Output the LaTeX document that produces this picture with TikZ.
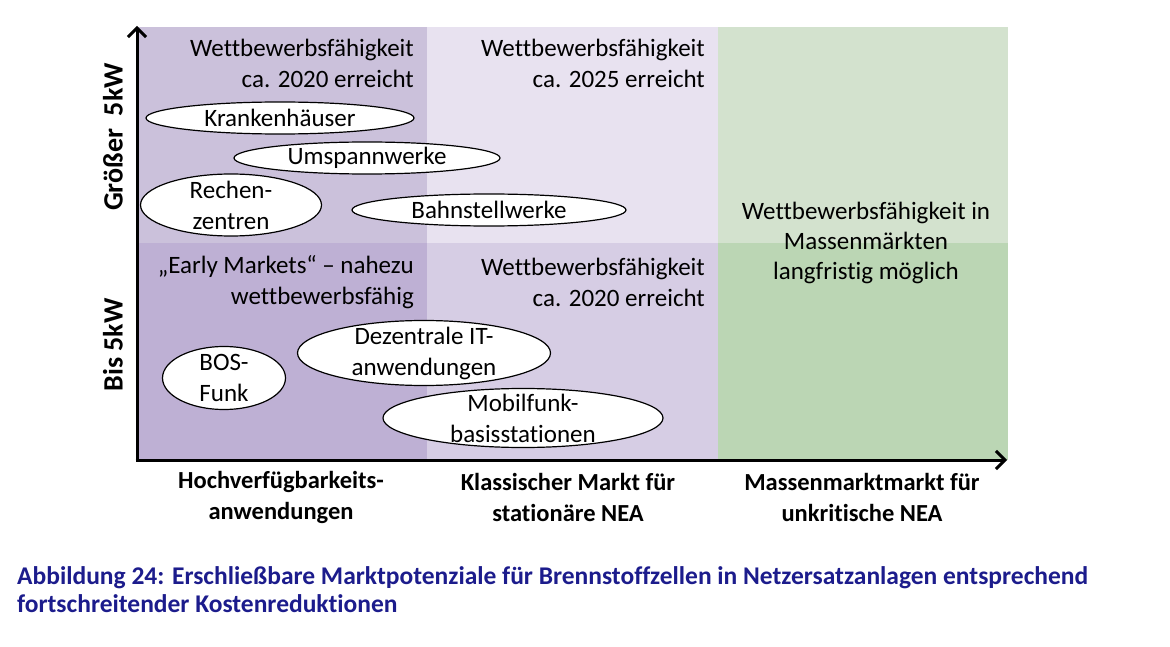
\documentclass[tikz,border=0pt]{standalone}
\usepackage{fontspec}
\setmainfont{Carlito}[Ligatures={NoCommon}]
\usetikzlibrary{shapes.geometric,arrows.meta}
\definecolor{tlc}{RGB}{203,193,219}
\definecolor{blc}{RGB}{190,176,212}
\definecolor{tmc}{RGB}{232,226,240}
\definecolor{bmc}{RGB}{214,205,228}
\definecolor{trc}{RGB}{211,226,206}
\definecolor{brc}{RGB}{187,214,180}
\definecolor{capc}{RGB}{28,28,140}
\tikzset{
  oval/.style={ellipse, draw=black, line width=1.2bp, fill=white, inner sep=0pt},
  ovaltext/.style={align=center, inner sep=0pt, font=\fontsize{25bp}{31bp}\selectfont},
  note/.style={align=right, inner sep=0pt, font=\fontsize{25bp}{31bp}\selectfont},
  notec/.style={align=center, inner sep=0pt, font=\fontsize{25bp}{30bp}\selectfont},
  axlabel/.style={align=center, inner sep=0pt, font=\bfseries\fontsize{24.5bp}{31bp}\selectfont},
  ylabel/.style={inner sep=0pt, rotate=90, font=\bfseries\fontsize{28bp}{31bp}\selectfont},
  axis/.style={line width=3bp, -{Straight Barb[length=9bp,width=18bp,line width=3bp]}},
}
\begin{document}
\begin{tikzpicture}[x=1bp,y=-1bp]
\useasboundingbox (0,0) rectangle (1170,647);
% regions
\fill[tlc] (137,27) rectangle (427,243);
\fill[tmc] (427,27) rectangle (718,243);
\fill[trc] (718,27) rectangle (1008,243);
\fill[blc] (137,243) rectangle (427,460);
\fill[bmc] (427,243) rectangle (718,460);
\fill[brc] (718,243) rectangle (1008,460);
% axes
\coordinate (o) at (137,460);
\coordinate (ytip) at (137,26);
\coordinate (xtip) at (1007,460);
\draw[axis] (o) -- (ytip);
\draw[axis] ([xshift=-1.5bp]o) -- (xtip);
% quadrant notes
\node[note, anchor=east] (n1) at (414,63) {Wettbewerbsfähigkeit\\ca. 2020 erreicht};
\node[note, anchor=east] (n2) at (705,63) {Wettbewerbsfähigkeit\\ca. 2025 erreicht};
\node[note, anchor=east] (n3) at (414,282) {„Early Markets“ – nahezu\\wettbewerbsfähig};
\node[note, anchor=east] (n4) at (705,282) {Wettbewerbsfähigkeit\\ca. 2020 erreicht};
\node[notec] (n5) at (866,243) {Wettbewerbsfähigkeit in\\Massenmärkten\\langfristig möglich};
% ellipses
\node[oval, minimum width=268bp, minimum height=32bp] (e1) at (280,118) {};
\node[ovaltext] at (e1.center) {Krankenhäuser};
\node[oval, minimum width=266bp, minimum height=32bp] (e2) at (367,158) {};
\node[ovaltext] at (e2.center) {Umspannwerke};
\node[oval, minimum width=181bp, minimum height=62bp] (e3) at (231,205) {};
\node[ovaltext] at (e3.center) {Rechen-\\zentren};
\node[oval, minimum width=274bp, minimum height=32bp] (e4) at (489,210) {};
\node[ovaltext] at (e4.center) {Bahnstellwerke};
\node[oval, minimum width=123bp, minimum height=63bp] (e5) at (224,378) {};
\node[ovaltext] at (e5.center) {BOS-\\Funk};
\node[oval, minimum width=253bp, minimum height=65bp] (e6) at (424,353) {};
\node[ovaltext] at (e6.center) {Dezentrale IT-\\anwendungen};
\node[oval, minimum width=280bp, minimum height=59bp] (e7) at (523,418) {};
\node[ovaltext] at (e7.center) {Mobilfunk-\\basisstationen};
% axis labels
\node[ylabel] (yl1) at (113,137) {Größer\ \ 5kW};
\node[ylabel] (yl2) at (113,345) {Bis 5kW};
\node[axlabel] (xl1) at (281,497) {Hochverfügbarkeits-\\anwendungen};
\node[axlabel] (xl2) at (568,497) {Klassischer Markt für\\stationäre NEA};
\node[axlabel] (xl3) at (862,497) {Massenmarktmarkt für\\unkritische NEA};
% caption
\node[anchor=west, align=left, inner sep=0pt, text=capc, font=\bfseries\fontsize{25.5bp}{28bp}\selectfont] (cap) at (17,590) {Abbildung 24: Erschließbare Marktpotenziale für Brennstoffzellen in Netzersatzanlagen entsprechend\\fortschreitender Kostenreduktionen};
\end{tikzpicture}
\end{document}
